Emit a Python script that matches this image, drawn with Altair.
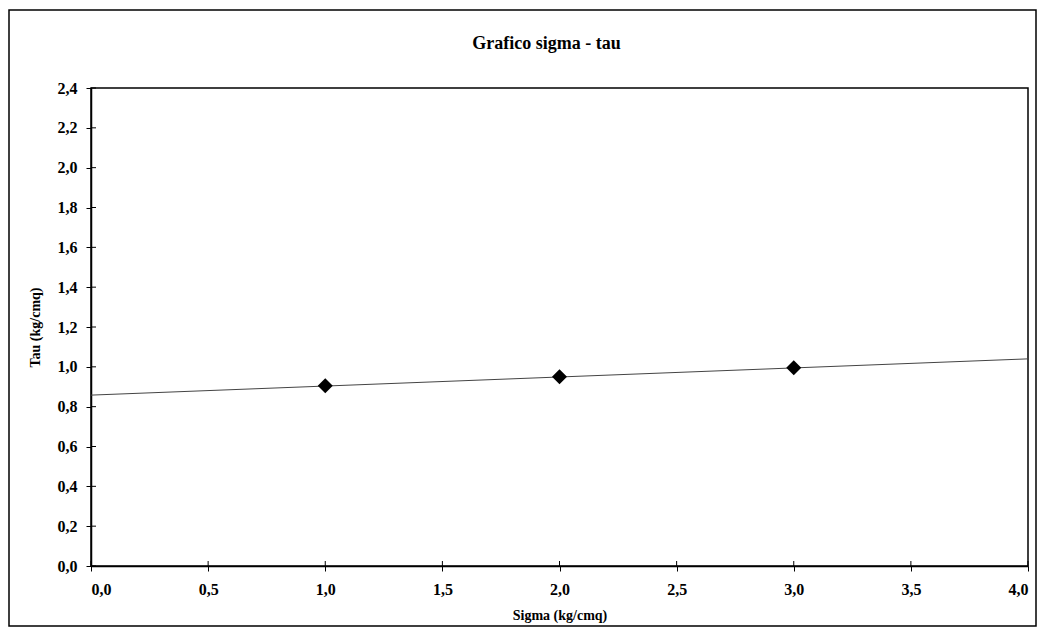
import altair as alt
import pandas as pd

title_text = "Grafico sigma - tau"
x_title = "Sigma (kg/cmq)"
y_title = "Tau (kg/cmq)"
sigma = [1.0, 2.0, 3.0]
tau = [0.905, 0.95, 0.995]
trend_x = [0.0, 4.0]
trend_y = [0.858, 1.04]
x_ticks = [0.0, 0.5, 1.0, 1.5, 2.0, 2.5, 3.0, 3.5, 4.0]
y_ticks = [0.0, 0.2, 0.4, 0.6, 0.8, 1.0, 1.2, 1.4, 1.6, 1.8, 2.0, 2.2, 2.4]

FONT = "Liberation Serif"
W, H = 937, 478

pts = pd.DataFrame({"sigma": sigma, "tau": tau})
trend = pd.DataFrame({"sigma": trend_x, "tau": trend_y})
xt = pd.DataFrame({"sigma": x_ticks})
yt = pd.DataFrame({"tau": y_ticks})
tt = pd.DataFrame({"t": [title_text]})

label_expr = "replace(format(datum.value, '.1f'), '.', ',')"

xscale = alt.Scale(domain=[0, 4], nice=False, zero=False)
yscale = alt.Scale(domain=[0, 2.4], nice=False, zero=False)

common = dict(grid=False, tickSize=5, labelOverlap=False,
              domainColor="black", tickColor="black", labelColor="black",
              labelFont=FONT, labelFontSize=16, labelFontWeight="bold",
              titleFont=FONT, titleFontSize=14, titleFontWeight="bold",
              titleColor="black", domainWidth=1.5, tickWidth=1)
xaxis = alt.Axis(values=x_ticks, labelExpr=label_expr, title=x_title,
                 labelPadding=10, titlePadding=11, **common)
yaxis = alt.Axis(values=y_ticks, labelExpr=label_expr, title=y_title,
                 labelPadding=9, titlePadding=15, **common)

X = alt.X("sigma:Q", scale=xscale, axis=xaxis)
Y = alt.Y("tau:Q", scale=yscale, axis=yaxis)

line = alt.Chart(trend).mark_line(color="#444444", strokeWidth=1).encode(x=X, y=Y)

points = alt.Chart(pts).mark_point(shape="diamond", filled=True, color="black",
                                   size=225, opacity=1).encode(x=X, y=Y)

xin = alt.Chart(xt).mark_rule(color="black", strokeWidth=1).encode(
    x=X, y=alt.value(H), y2=alt.value(H - 5),
)
yin = alt.Chart(yt).mark_rule(color="black", strokeWidth=1).encode(
    y=Y, x=alt.value(0), x2=alt.value(5),
)

frame = alt.Chart(pd.DataFrame({"a": [0]})).mark_rect(
    fill=None, stroke="black", strokeWidth=1.5, clip=False
).encode(
    x=alt.value(-82), x2=alt.value(945),
    y=alt.value(-78), y2=alt.value(538),
)

title = alt.Chart(tt).mark_text(
    font=FONT, fontSize=18, fontWeight="bold", color="black",
    align="center", baseline="middle",
).encode(
    text="t:N", x=alt.value(W / 2 - 13), y=alt.value(-44),
)

chart = alt.layer(frame, line, xin, yin, points, title).properties(
    width=W, height=H,
    autosize=alt.AutoSizeParams(type="none"),
    padding={"left": 83, "top": 80, "right": 9, "bottom": 62},
).configure(background="white").configure_view(stroke="black", strokeWidth=1.5)

chart.save("out.html", embed_options={"renderer": "svg", "actions": False})
